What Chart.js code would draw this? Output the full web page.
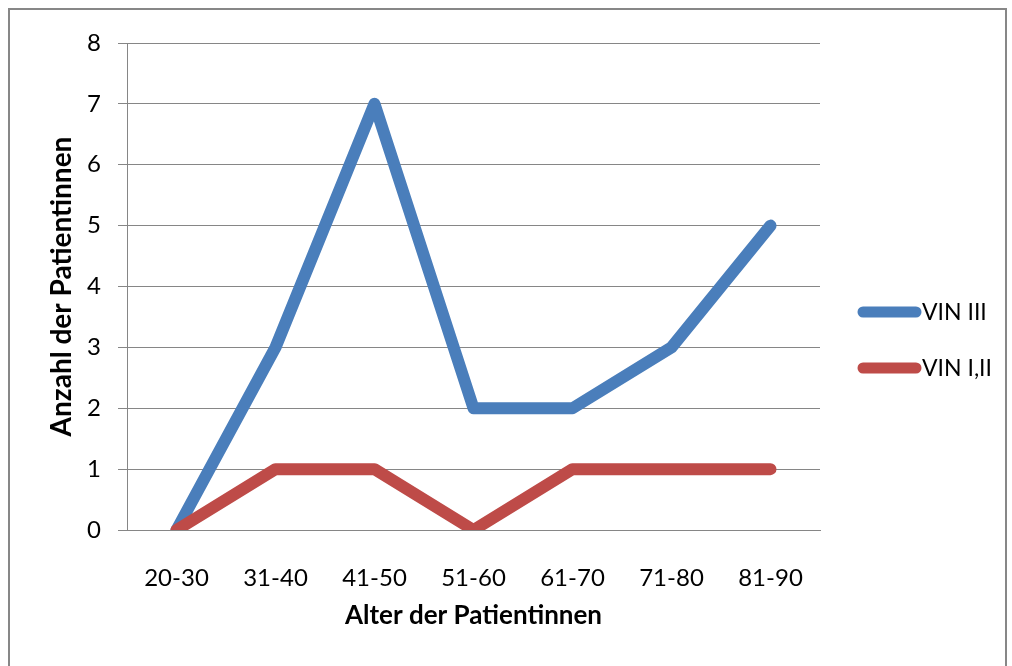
<!DOCTYPE html>
<html>
<head>
<meta charset="utf-8">
<script src="https://cdn.jsdelivr.net/npm/chart.js@4"></script>
<style>
  html, body { margin: 0; padding: 0; background: #fff; overflow: hidden; }
  #wrap { position: relative; width: 1012px; height: 666px; }
  #frame { position: absolute; left: 8px; top: 8px; width: 999px; height: 670px; border: 2px solid #878787; box-sizing: border-box; }
  canvas { position: absolute; left: 0; top: 0; }
</style>
</head>
<body>
<div id="wrap">
  <div id="frame"></div>
  <canvas id="chart" width="1012" height="666"></canvas>
</div>
<script>
// Altersgruppen und Fallzahlen
const ageGroups = ["20-30", "31-40", "41-50", "51-60", "61-70", "71-80", "81-90"];
const vin3 = [0, 3, 7, 2, 2, 3, 5];
const vin12 = [0, 1, 1, 0, 1, 1, 1];
const seriesNames = ["VIN III", "VIN I,II"];
const seriesColors = ["#4a7ebb", "#be4b48"];

const gridGray = "#868686";
const fontFamily = "Lato, 'Open Sans', sans-serif";

// simple legend on the right, drawn like the office chart
const sideLegend = {
    id: "sideLegend",
    afterDraw(chart) {
        const ctx = chart.ctx;
        const rows = [312, 368];
        ctx.save();
        chart.data.datasets.forEach((ds, i) => {
            const y = rows[i];
            ctx.strokeStyle = ds.borderColor;
            ctx.lineWidth = 11;
            ctx.lineCap = "round";
            ctx.beginPath();
            ctx.moveTo(863, y);
            ctx.lineTo(916, y);
            ctx.stroke();
            ctx.fillStyle = "#000";
            ctx.font = "23px " + fontFamily;
            ctx.textBaseline = "middle";
            ctx.fillText(ds.label, 922, y + 1);
        });
        ctx.restore();
    }
};

new Chart(document.getElementById("chart"), {
    type: "line",
    data: {
        labels: ageGroups,
        datasets: [
            { label: seriesNames[0], data: vin3, borderColor: seriesColors[0], backgroundColor: seriesColors[0], order: 1 },
            { label: seriesNames[1], data: vin12, borderColor: seriesColors[1], backgroundColor: seriesColors[1], order: 0 }
        ]
    },
    options: {
        responsive: false,
        animation: false,
        layout: { padding: { left: 0, top: 43, right: 192, bottom: 0 } },
        elements: {
            line: { borderWidth: 12, borderCapStyle: "round", borderJoinStyle: "round", tension: 0 },
            point: { radius: 0, hoverRadius: 0 }
        },
        scales: {
            x: {
                offset: true,
                grid: { display: false, drawTicks: false },
                border: { display: true, color: gridGray, width: 1 },
                ticks: { color: "#000", padding: 34, font: { family: fontFamily, size: 24 } },
                title: {
                    display: true, text: "Alter der Patientinnen", color: "#000",
                    padding: { top: 0, bottom: 35 },
                    font: { family: fontFamily, size: 26, weight: "bold" }
                },
                afterFit(scale) { scale.height = 136; }
            },
            y: {
                min: 0, max: 8,
                ticks: { stepSize: 1, color: "#000", padding: 17, font: { family: fontFamily, size: 24 } },
                grid: { color: gridGray, lineWidth: 1, drawTicks: true, tickLength: 9 },
                border: { display: true, color: gridGray, width: 1 },
                title: {
                    display: true, text: "Anzahl der Patientinnen", color: "#000",
                    padding: { top: 45, bottom: 0 },
                    font: { family: fontFamily, size: 28, weight: "bold" }
                },
                afterFit(scale) { scale.width = 127; }
            }
        },
        plugins: {
            legend: { display: false },
            tooltip: { enabled: false }
        }
    },
    plugins: [sideLegend]
});
</script>
</body>
</html>
